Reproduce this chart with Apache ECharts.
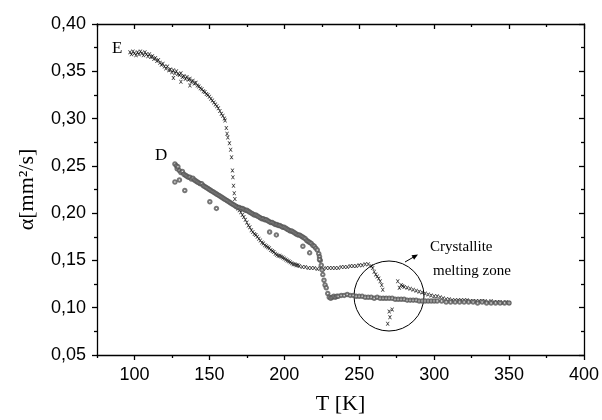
<!DOCTYPE html>
<html><head><meta charset="utf-8">
<script src="https://cdn.jsdelivr.net/npm/echarts@6/dist/echarts.min.js"></script>
<style>html,body{margin:0;padding:0;background:#fff}#c{width:602px;height:420px}</style>
</head><body><div id="c"></div>
<script>
// ---- data: [T (K), alpha (mm^2/s)] ----
const seriesE = [
[97,0.370],[98,0.368],[99,0.371],[100,0.369],[101,0.367],[102,0.370],[103,0.368],[104,0.371],[105,0.369],[106,0.367],
[107,0.370],[108,0.368],[109,0.366],[110,0.368],[111,0.365],[112,0.366],[113,0.363],[114,0.364],[115,0.361],[116,0.362],
[117,0.359],[118,0.357],[119,0.358],[120,0.355],[121,0.353],[122,0.355],[123,0.351],[124,0.352],[125,0.349],[126,0.351],
[127,0.348],[128,0.350],[129,0.347],[130,0.346],[131,0.348],[132,0.344],[133,0.345],[134,0.342],[135,0.344],[136,0.341],
[137,0.342],[138,0.339],[139,0.340],[140,0.337],[141,0.338],[142,0.335],[143,0.334],[144,0.332],[145,0.331],[146,0.329],
[147,0.328],[148,0.326],[149,0.325],[150,0.323],[151,0.321],[152,0.319],[153,0.317],[154,0.315],[155,0.313],[156,0.311],
[157,0.308],[158,0.305],[159,0.303],[160,0.300],[160.5,0.298],[161.3,0.290],[161.8,0.284],[162.3,0.280],[163.4,0.274],
[164.2,0.267],[164.8,0.259],[165.4,0.245],[165.7,0.238],[166.1,0.229],[166.6,0.221],[167,0.215],
[126,0.343],[131,0.339],[137,0.335],
[168,0.207],[169,0.205],[170,0.203],[171,0.201],[172,0.198],[173,0.196],[174,0.193],[175,0.190],[176,0.187],[177,0.185],
[178,0.182],[179,0.180],[180,0.178],[181,0.177],[182,0.175],[183,0.173],[184,0.171],[185,0.169],[186,0.168],[187,0.166],
[188,0.165],[189,0.164],[190,0.163],[191,0.161],[192,0.160],[193,0.159],[194,0.157],[195,0.156],[196,0.155],[197,0.155],
[198,0.154],[199,0.153],[200,0.152],[201,0.151],[202,0.150],[203,0.149],[204,0.148],[205,0.147],[206,0.146],[207,0.146],
[208,0.145],[209,0.145],[210,0.144],[212,0.143],[214,0.143],[216,0.142],[218,0.142],[220,0.142],[222,0.141],[224,0.142],
[226,0.141],[228,0.142],[230,0.142],[232,0.142],[234,0.142],[236,0.142],[238,0.143],[240,0.143],[242,0.143],[244,0.144],
[246,0.144],[248,0.144],[250,0.145],[252,0.145],[254,0.146],[256,0.146],[258,0.144],[259,0.142],[260,0.138],[261,0.135],
[262,0.133],[263,0.131],[264,0.128],[265,0.124],[265.7,0.119],[266.8,0.110],[270,0.096],[272,0.098],[269,0.083],[270.5,0.090],
[275.7,0.128],[276.8,0.121],[278,0.124],[279,0.123],[280,0.122],[282,0.121],[284,0.120],[286,0.119],[288,0.118],[290,0.117],
[292,0.116],[294,0.115],[296,0.114],[298,0.113],[300,0.112],[302,0.112],[304,0.111],[306,0.110],[308,0.109],[310,0.109],
[312,0.108],[314,0.108],[316,0.108],[318,0.108],[320,0.108],[322,0.108],[324,0.107],[326,0.107],[328,0.107],[330,0.107],
[332,0.107],[334,0.107],[336,0.106],[338,0.107],[340,0.106],[342,0.106],[344,0.106],[346,0.105],[348,0.106],[350,0.105]
];
const seriesD = [
[127,0.252],[128,0.250],[128.5,0.247],[129,0.249],[130,0.245],[131,0.243],[132,0.244],[133,0.241],[134,0.240],[135,0.239],
[136,0.238],[137,0.238],[138,0.236],[139,0.237],[140,0.235],[141,0.234],[142,0.233],[143,0.232],[144,0.231],[145,0.231],
[146,0.229],[147,0.228],[148,0.227],[149,0.226],[150,0.225],[151,0.224],[152,0.223],[153,0.222],[154,0.221],[155,0.220],
[156,0.219],[157,0.218],[158,0.217],[159,0.216],[160,0.215],[161,0.214],[162,0.213],[163,0.212],[164,0.211],[165,0.210],
[166,0.209],[167,0.208],[168,0.207],[169,0.206],[170,0.206],[171,0.205],[172,0.205],[173,0.204],[174,0.203],[175,0.203],
[176,0.202],[177,0.201],[178,0.200],[179,0.199],[180,0.198],[181,0.198],[182,0.197],[183,0.196],[184,0.195],[185,0.194],
[186,0.194],[187,0.193],[188,0.193],[189,0.192],[190,0.191],[191,0.190],[192,0.190],[193,0.189],[194,0.188],[195,0.188],
[196,0.187],[197,0.187],[198,0.186],[199,0.185],[200,0.185],[201,0.184],[202,0.183],[203,0.182],[204,0.181],[205,0.181],
[206,0.180],[207,0.179],[208,0.178],[209,0.177],[210,0.177],[211,0.176],[212,0.175],[213,0.174],[214,0.173],[215,0.171],
[216,0.170],[217,0.169],[218,0.168],[219,0.166],[220,0.165],[221,0.163],[222,0.161],[223,0.157],[223.5,0.154],[224,0.150],
[224.7,0.145],[225.2,0.140],[225.7,0.135],[226.5,0.129],[227.2,0.124],[228,0.121],[229,0.115],[230,0.111],[231,0.110],
[232,0.111],[233,0.112],[234,0.111],[235,0.112],[236,0.112],[238,0.113],[240,0.113],[242,0.114],[244,0.113],[246,0.113],
[248,0.112],[250,0.112],[252,0.112],[254,0.111],[256,0.111],[258,0.111],[260,0.110],[262,0.111],[264,0.110],[266,0.110],
[268,0.110],[270,0.110],[272,0.110],[274,0.109],[276,0.109],[278,0.109],[280,0.109],[282,0.108],[284,0.108],[286,0.108],
[288,0.108],[290,0.107],[292,0.107],[294,0.107],[296,0.107],[298,0.107],[300,0.107],[302,0.107],[305,0.107],[308,0.106],
[311,0.106],[314,0.106],[317,0.106],[320,0.106],[323,0.106],[326,0.106],[329,0.105],[332,0.106],[335,0.105],[338,0.105],
[341,0.105],[344,0.105],[347,0.105],[350,0.105],
[127,0.233],[130,0.235],[133.6,0.224],[150.3,0.212],[154.7,0.205],[190.2,0.180],[194.7,0.177],[212.4,0.165],[216.9,0.158],[223.5,0.151]
];
const xMajorTicks = [100,150,200,250,300,350,400];
const xMinorTicks = [75,125,175,225,275,325,375];
const xRange = [75,400];
const yRange = [0.05,0.40];
const yStep = 0.05;

const chart = echarts.init(document.getElementById('c'), null, {renderer:'canvas'});
const black = '#000';
const lineStyle = {color:black, width:1.3};
const sans = 'Liberation Sans, Arial, sans-serif';
const serif = 'Liberation Serif, Times New Roman, serif';
const crossPath = 'path://M0,0L2,0L5,3L8,0L10,0L6,5L10,10L8,10L5,7L2,10L0,10L4,5Z';

function xAx(pos, vals, len, inside, main){
  return {type:'value', position:pos, min:xRange[0], max:xRange[1],
    axisLine:{show:main, lineStyle}, splitLine:{show:false},
    axisTick:{show:true, inside, length:len, lineStyle, customValues:vals},
    axisLabel:{show:main && pos==='bottom', customValues:vals, color:black, fontFamily:sans, fontSize:18, margin:11},
    name: (main && pos==='bottom') ? 'T [K]' : '', nameLocation:'middle', nameGap:38,
    nameTextStyle:{fontFamily:serif, fontSize:22, color:black}};
}
const option = {
  animation:false,
  grid:{left:97, right:17, top:24, bottom:62, containLabel:false},
  xAxis:[ xAx('bottom', xMajorTicks, 5, false, true), xAx('bottom', xMinorTicks, 3, false, false),
          xAx('top', xMajorTicks, 5, true, true), xAx('top', xMinorTicks, 3, true, false) ],
  yAxis:[
    {type:'value', position:'left', min:yRange[0], max:yRange[1], interval:yStep,
     axisLine:{show:true, lineStyle}, splitLine:{show:false},
     axisTick:{show:true, inside:false, length:5, lineStyle},
     minorTick:{show:true, splitNumber:2, length:3, lineStyle},
     axisLabel:{color:black, fontFamily:sans, fontSize:18, margin:11, formatter:v=>v.toFixed(2).replace('.',',')},
     name:'α[mm²/s]', nameLocation:'middle', nameGap:59,
     nameTextStyle:{fontFamily:serif, fontSize:22, color:black}},
    {type:'value', position:'right', min:yRange[0], max:yRange[1], interval:yStep,
     axisLine:{show:true, lineStyle}, splitLine:{show:false},
     axisTick:{show:true, inside:true, length:5, lineStyle},
     minorTick:{show:true, splitNumber:2, length:3, lineStyle},
     axisLabel:{show:false}}
  ],
  series:[
    {type:'scatter', name:'E', data:seriesE, symbol:crossPath, symbolSize:4,
     itemStyle:{color:'#000'}, silent:true},
    {type:'scatter', name:'D', data:seriesD, symbol:'emptyCircle', symbolSize:3.5,
     itemStyle:{color:'#555', borderColor:'#555', borderWidth:0.6}, silent:true}
  ],
  graphic:[
    {type:'text', left:112, top:40, style:{text:'E', font:'17px '+serif, fill:black}},
    {type:'text', left:155, top:147, style:{text:'D', font:'17px '+serif, fill:black}},
    {type:'circle', shape:{cx:389, cy:296, r:35}, style:{fill:'none', stroke:black, lineWidth:1}},
    {type:'line', shape:{x1:405, y1:262, x2:414, y2:256.8}, style:{stroke:black, lineWidth:1}},
    {type:'polygon', shape:{points:[[418,254.5],[414.1,259.7],[411.5,255.3]]}, style:{fill:black}},
    {type:'text', left:430, top:240, style:{text:'Crystallite', font:'15px '+serif, fill:black}},
    {type:'text', left:433, top:264, style:{text:'melting zone', font:'15px '+serif, fill:black}}
  ]
};
chart.setOption(option);
</script></body></html>
